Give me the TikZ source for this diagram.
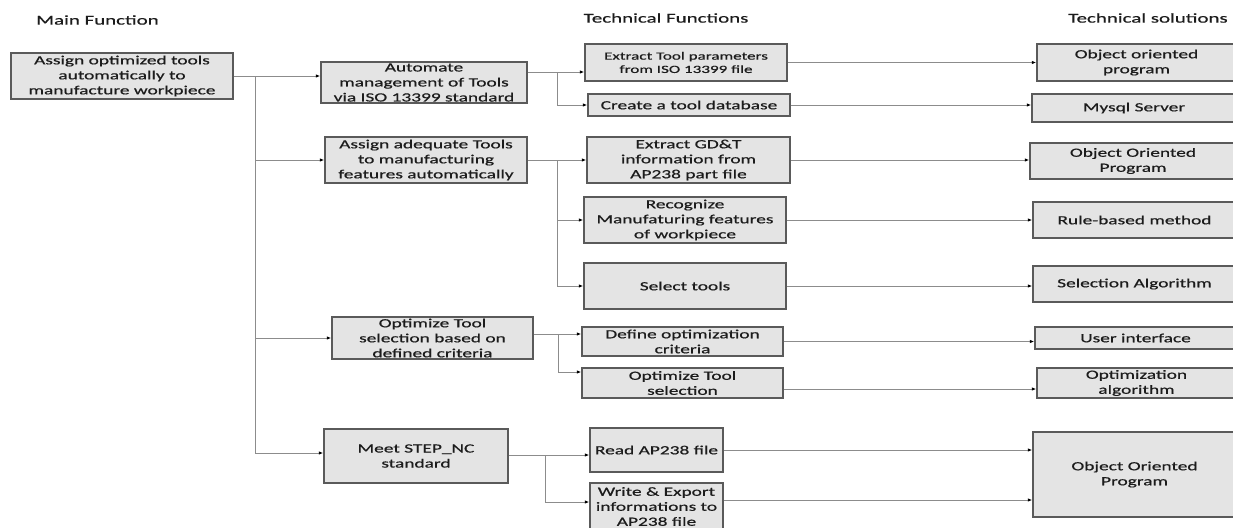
\documentclass[tikz,border=0pt]{standalone}
\usepackage{fontspec}
\setmainfont{Carlito}[FakeStretch=1.55,FakeBold=0.6]
\usetikzlibrary{arrows.meta}
\definecolor{boxfill}{HTML}{E4E4E4}
\definecolor{boxline}{HTML}{5A5A5A}
\definecolor{linkgray}{HTML}{8C8C8C}
\definecolor{ink}{HTML}{1C1C1C}
\begin{document}
\begin{tikzpicture}[x=1pt,y=-1pt,
  box/.style={draw=boxline, fill=boxfill, line width=1.4pt, align=center,
    inner sep=0pt, text=ink, font=\fontsize{12.5}{15}\selectfont},
  small/.style={font=\fontsize{11}{13.3}\selectfont},
  head/.style={text=ink, font=\fontsize{13.5}{16}\selectfont, inner sep=0pt},
  wire/.style={draw=linkgray, line width=0.9pt},
  link/.style={wire, -{Latex[length=4.5pt,width=3.5pt,color=black]}}]
\clip (0,0) rectangle (1233,527);

% column headings
\node[head, anchor=west] (h1) at (36,20) {Main Function};
\node[head] (h2) at (666,18) {Technical Functions};
\node[head] (h3) at (1148,18) {Technical solutions};

% main function
\node[box, minimum width=222pt, minimum height=46pt] (main) at (122,76)
  {Assign optimized tools\\automatically to\\manufacture workpiece};

% functions
\node[box, minimum width=206pt, minimum height=41pt] (A1) at (424,82.5)
  {Automate\\management of Tools\\via ISO 13399 standard};
\node[box, minimum width=202pt, minimum height=46pt] (A2) at (426,160)
  {Assign adequate Tools\\to manufacturing\\features automatically};
\node[box, minimum width=201pt, minimum height=42pt] (A3) at (432.5,338)
  {Optimize Tool\\selection based on\\defined criteria};
\node[box, minimum width=184pt, minimum height=54pt] (A4) at (416,456)
  {Meet STEP\_NC\\standard};

% technical functions
\node[box, small, minimum width=202pt, minimum height=37pt] (B1) at (686,62.5)
  {Extract Tool parameters\\from ISO 13399 file};
\node[box, minimum width=202pt, minimum height=22pt] (B2) at (689,105)
  {Create a tool database};
\node[box, minimum width=203pt, minimum height=46pt] (B3) at (688.5,160)
  {Extract GD\&T\\information from\\AP238 part file};
\node[box, minimum width=202pt, minimum height=46pt] (B4) at (685,220)
  {Recognize\\Manufaturing features\\of workpiece};
\node[box, minimum width=202pt, minimum height=46pt] (B5) at (685,286)
  {Select tools};
\node[box, minimum width=201pt, minimum height=29pt] (B6) at (682.5,341.5)
  {Define optimization\\criteria};
\node[box, minimum width=201pt, minimum height=30pt] (B7) at (682.5,383)
  {Optimize Tool\\selection};
\node[box, minimum width=133pt, minimum height=44pt] (B8) at (656.5,450)
  {Read AP238 file};
\node[box, minimum width=133pt, minimum height=47pt] (B9) at (656.5,506.5)
  {Write \& Export\\informations to\\AP238 file};

% technical solutions
\node[box, minimum width=199pt, minimum height=37pt] (C1) at (1136.5,62.5)
  {Object oriented\\program};
\node[box, minimum width=204pt, minimum height=28pt] (C2) at (1134,108)
  {Mysql Server};
\node[box, minimum width=206pt, minimum height=36pt] (C3) at (1133,161)
  {Object Oriented\\Program};
\node[box, minimum width=203pt, minimum height=36pt] (C4) at (1134.5,220)
  {Rule-based method};
\node[box, minimum width=203pt, minimum height=36pt] (C5) at (1134.5,284)
  {Selection Algorithm};
\node[box, minimum width=201pt, minimum height=22pt] (C6) at (1135.5,338)
  {User interface};
\node[box, minimum width=199pt, minimum height=30pt] (C7) at (1136.5,383)
  {Optimization\\algorithm};
\node[box, minimum width=203pt, minimum height=85pt] (C8) at (1134.5,474.5)
  {Object Oriented\\Program};

% main function to functions
\coordinate (t) at (255,76);
\draw[link] (main.east) -- (A1.west |- main.east);
\draw[link] (t) |- (A2.west);
\draw[link] (t) |- (A3.west);
\draw[link] (t) |- ([yshift=3pt]A4.west);

% functions to technical functions
\coordinate (j1) at (557,72);
\draw[link] (A1.east |- j1) -- (B1.west |- j1);
\draw[link] (j1) |- (B2.west);
\coordinate (j2) at (557,160);
\draw[link] (A2.east) -- (B3.west);
\draw[link] (j2) |- (B4.west);
\draw[link] (j2) |- (B5.west);
\coordinate (j3) at (558,334);
\draw[link] (A3.east |- j3) -- (B6.west |- j3);
\draw[link] (j3) |- ([yshift=11pt]B7.west);
\coordinate (j4) at (545,455);
\draw[link] (A4.east |- j4) -- (B8.west |- j4);
\draw[link] (j4) |- ([yshift=4.5pt]B9.west);

% technical functions to technical solutions
\draw[link] (B1.east) -- (C1.west |- B1.east);
\draw[link] (B2.east) -- (C2.west |- B2.east);
\draw[link] (B3.east) -- (C3.west |- B3.east);
\draw[link] (B4.east) -- (C4.west |- B4.east);
\draw[link] (B5.east) -- (C5.west |- B5.east);
\draw[link] (B6.east) -- (C6.west |- B6.east);
\draw[link] ([yshift=-6pt]B7.east) coordinate (o7) -- (C7.west |- o7);
\draw[link] (B8.east) -- (C8.west |- B8.east);
\draw[link] ([yshift=6.5pt]B9.east) coordinate (o9) -- (C8.west |- o9);
\end{tikzpicture}
\end{document}
